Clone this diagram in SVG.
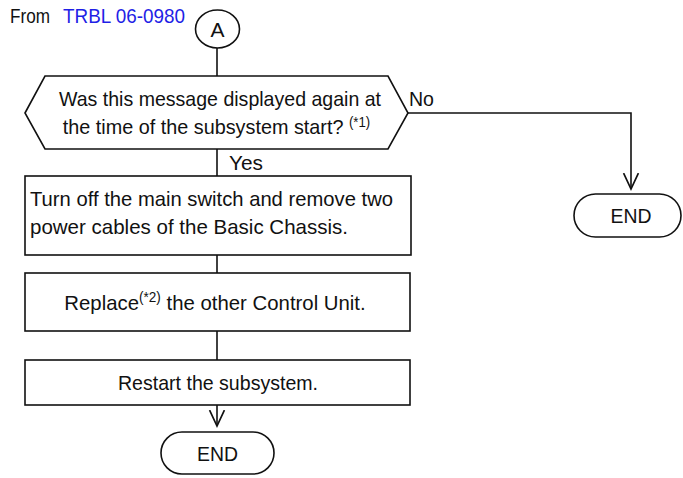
<svg xmlns="http://www.w3.org/2000/svg" width="683" height="478" viewBox="0 0 683 478">
  <style>
    text { font-family: "Liberation Sans", Arial, sans-serif; font-size: 21px; fill: #111; }
    .shape { fill: #fff; stroke: #111; stroke-width: 1.6; }
    .conn { fill: none; stroke: #111; stroke-width: 1.6; }
    .link { fill: #1f1fe6; }
    .sup { font-size: 14px; }
    .mid { text-anchor: middle; }
  </style>
  <defs>
    <marker id="vee" markerUnits="userSpaceOnUse" markerWidth="18" markerHeight="18" refX="15" refY="8" orient="auto" viewBox="0 0 17 16">
      <path d="M0,1 L15,8 L0,15" fill="none" stroke="#111" stroke-width="1.6"/>
    </marker>
  </defs>

  <g id="connectors">
    <line class="conn" x1="217" y1="48" x2="217" y2="76"/>
    <line class="conn" x1="217" y1="149" x2="217" y2="176"/>
    <line class="conn" x1="217" y1="255" x2="217" y2="273"/>
    <line class="conn" x1="217" y1="331" x2="217" y2="360"/>
    <path class="conn" d="M217,405 L217,426" marker-end="url(#vee)"/>
    <path class="conn" d="M408,113 L631,113 L631,189" marker-end="url(#vee)"/>
    <text x="409" y="106" textLength="25" lengthAdjust="spacingAndGlyphs">No</text>
    <text x="229" y="170" textLength="34" lengthAdjust="spacingAndGlyphs">Yes</text>
  </g>

  <g id="source">
    <text x="10" y="23" textLength="40" lengthAdjust="spacingAndGlyphs">From</text>
    <text class="link" x="63" y="23" textLength="122" lengthAdjust="spacingAndGlyphs">TRBL 06-0980</text>
  </g>

  <g id="connectorA">
    <ellipse class="shape" cx="217.5" cy="29" rx="22" ry="19"/>
    <text class="mid" x="217.5" y="37" textLength="14" lengthAdjust="spacingAndGlyphs">A</text>
  </g>

  <g id="decision">
    <polygon class="shape" points="25,113 45,76 388,76 408,113 388,149 45,149"/>
    <text x="59" y="106" textLength="322" lengthAdjust="spacingAndGlyphs">Was this message displayed again at</text>
    <text class="mid" transform="translate(216.5,0) scale(0.943,1)" x="0" y="134">the time of the subsystem start? <tspan class="sup" dy="-7">(*1)</tspan></text>
  </g>

  <g id="step1">
    <rect class="shape" x="25" y="176" width="386" height="79"/>
    <text x="30" y="206" textLength="363" lengthAdjust="spacingAndGlyphs">Turn off the main switch and remove two</text>
    <text x="30" y="234" textLength="318" lengthAdjust="spacingAndGlyphs">power cables of the Basic Chassis.</text>
  </g>

  <g id="step2">
    <rect class="shape" x="25" y="273" width="385" height="58"/>
    <text class="mid" transform="translate(215,0) scale(0.97,1)" x="0" y="310">Replace<tspan class="sup" dy="-8">(*2)</tspan><tspan dy="8"> the other Control Unit.</tspan></text>
  </g>

  <g id="step3">
    <rect class="shape" x="25" y="360" width="385" height="45"/>
    <text x="118" y="390" textLength="200" lengthAdjust="spacingAndGlyphs">Restart the subsystem.</text>
  </g>

  <g id="end1">
    <rect class="shape" x="574" y="194" width="107" height="43" rx="21.5" ry="21.5"/>
    <text class="mid" x="631" y="223" textLength="41" lengthAdjust="spacingAndGlyphs">END</text>
  </g>

  <g id="end2">
    <rect class="shape" x="161" y="432" width="113" height="42" rx="21" ry="21"/>
    <text class="mid" x="217.5" y="461" textLength="41" lengthAdjust="spacingAndGlyphs">END</text>
  </g>
</svg>
